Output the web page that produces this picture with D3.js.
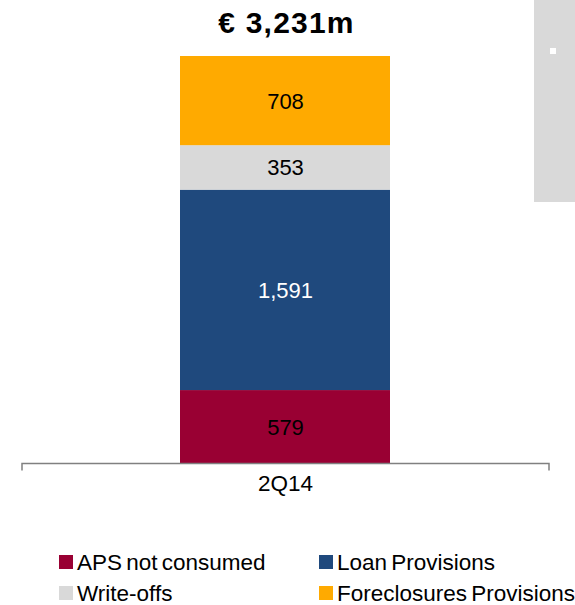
<!DOCTYPE html>
<html><head><meta charset="utf-8">
<script src="https://cdn.jsdelivr.net/npm/d3@7"></script>
<style>body{margin:0;background:#fff}svg{display:block;font-family:"Liberation Sans",Arial,sans-serif}</style>
</head><body>
<script>
const categories = ["2Q14"];
const seriesNames = ["APS not consumed", "Loan Provisions", "Write-offs", "Foreclosures Provisions"];
const seriesValues = [579, 1591, 353, 708];
const seriesColors = ["#990033", "#1F497D", "#D9D9D9", "#FFAA00"];
const labelColors = ["#000", "#fff", "#000", "#000"];
const totalLabel = "€ 3,231m";

const W = 575, H = 605;
const svg = d3.select("body").append("svg").attr("width", W).attr("height", H);

// decorative grey panel
svg.append("rect").attr("x", 534).attr("y", 0).attr("width", 41).attr("height", 202).attr("fill", "#D9D9D9");
svg.append("rect").attr("x", 550).attr("y", 48).attr("width", 6).attr("height", 6).attr("fill", "#fff");

const x = d3.scaleBand().domain(categories).range([22, 549]).paddingInner(0).paddingOuter(0.3);
const total = d3.sum(seriesValues);
const y = d3.scaleLinear().domain([0, total]).range([463, 56]);

const stacked = [];
let acc = 0;
seriesValues.forEach((v, i) => { stacked.push({i, y0: acc, y1: acc + v, v}); acc += v; });

const bw = 210;
const cx = x(categories[0]) + x.bandwidth() / 2;
const g = svg.append("g");
g.selectAll("rect.seg").data(stacked).join("rect")
  .attr("x", cx - bw / 2 - 0.5).attr("width", bw)
  .attr("y", d => y(d.y1)).attr("height", d => y(d.y0) - y(d.y1))
  .attr("fill", d => seriesColors[d.i]);
g.selectAll("text.lab").data(stacked).join("text")
  .attr("x", cx).attr("y", d => (y(d.y0) + y(d.y1)) / 2 + 8)
  .attr("text-anchor", "middle").attr("font-size", 22)
  .attr("fill", d => labelColors[d.i])
  .text(d => d3.format(",")(d.v));

svg.append("text").attr("x", cx + 1).attr("y", 33).attr("text-anchor", "middle")
  .attr("font-size", 30).attr("font-weight", "bold").attr("letter-spacing", 1.2).attr("fill", "#000").text(totalLabel);

// axis
const axis = svg.append("g").attr("transform", "translate(0,463.5)")
  .call(d3.axisBottom(x).tickSize(0).tickPadding(12));
axis.select(".domain").remove();
axis.selectAll("text").attr("font-size", 22.5).attr("fill", "#000").attr("font-family", "Liberation Sans, Arial, sans-serif");
axis.append("path").attr("d", "M22,7V0H549V7").attr("fill", "none").attr("stroke", "#808080").attr("stroke-width", 1.5);

// legend
const legPos = [[59, 555], [319, 555], [59, 586], [319, 586]];
const leg = svg.append("g");
seriesNames.forEach((n, i) => {
  const [lx, ly] = legPos[i];
  leg.append("rect").attr("x", lx).attr("y", ly).attr("width", 14).attr("height", 14).attr("fill", seriesColors[i]);
  leg.append("text").attr("x", lx + 18).attr("y", ly + 15).attr("font-size", 22.5)
    .attr("word-spacing", -2).attr("fill", "#000").text(n);
});
</script>
</body></html>
